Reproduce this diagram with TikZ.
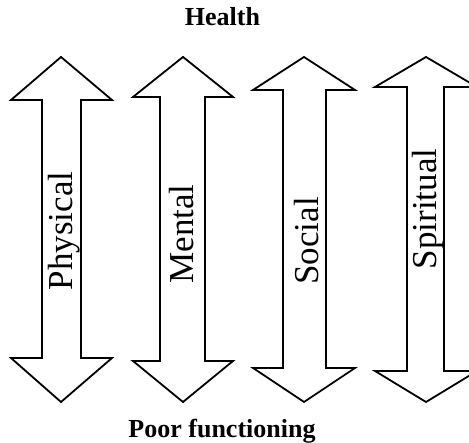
\documentclass[tikz,border=0pt]{standalone}
\usepackage{fontspec}
\setmainfont{Liberation Serif}
\tikzset{
  arrowline/.style={draw=black, line width=1.8pt, fill=white, line join=miter},
  headtext/.style={font=\fontsize{26}{30}\selectfont\bfseries, inner sep=0pt, anchor=base},
  dimtext/.style={font=\fontsize{35}{40}\selectfont, inner sep=0pt, anchor=base, rotate=90}
}
\newcommand\myarrow[9]{\draw[arrowline] (#1,#2) -- (#5,#3) -- (#7,#3) -- (#7,#8) -- (#5,#8) -- (#1,#9) -- (#4,#8) -- (#6,#8) -- (#6,#3) -- (#4,#3) -- cycle;}
\begin{document}
\begin{tikzpicture}[x=1pt,y=-1pt]
\clip (0,0) rectangle (469,443);
\fill[white] (0,0) rectangle (469,443);
\myarrow{61}{57}{100}{11}{112}{42}{81}{358}{402}
\myarrow{183}{57}{97}{133}{233}{160}{205}{361}{402}
\myarrow{304}{57}{90}{253}{355}{283}{326}{368}{402}
\myarrow{426}{57}{87}{375}{477}{407}{444}{371}{402}
\node[headtext] (health) at (222.5,26) {Health};
\node[headtext] (poor) at (222,438) {Poor functioning};
\node[dimtext] (phys) at (72,231) {Physical};
\node[dimtext] (ment) at (193,234) {Mental};
\node[dimtext] (soc) at (318,241) {Social};
\node[dimtext] (spir) at (436,209) {Spiritual};
\end{tikzpicture}
\end{document}
